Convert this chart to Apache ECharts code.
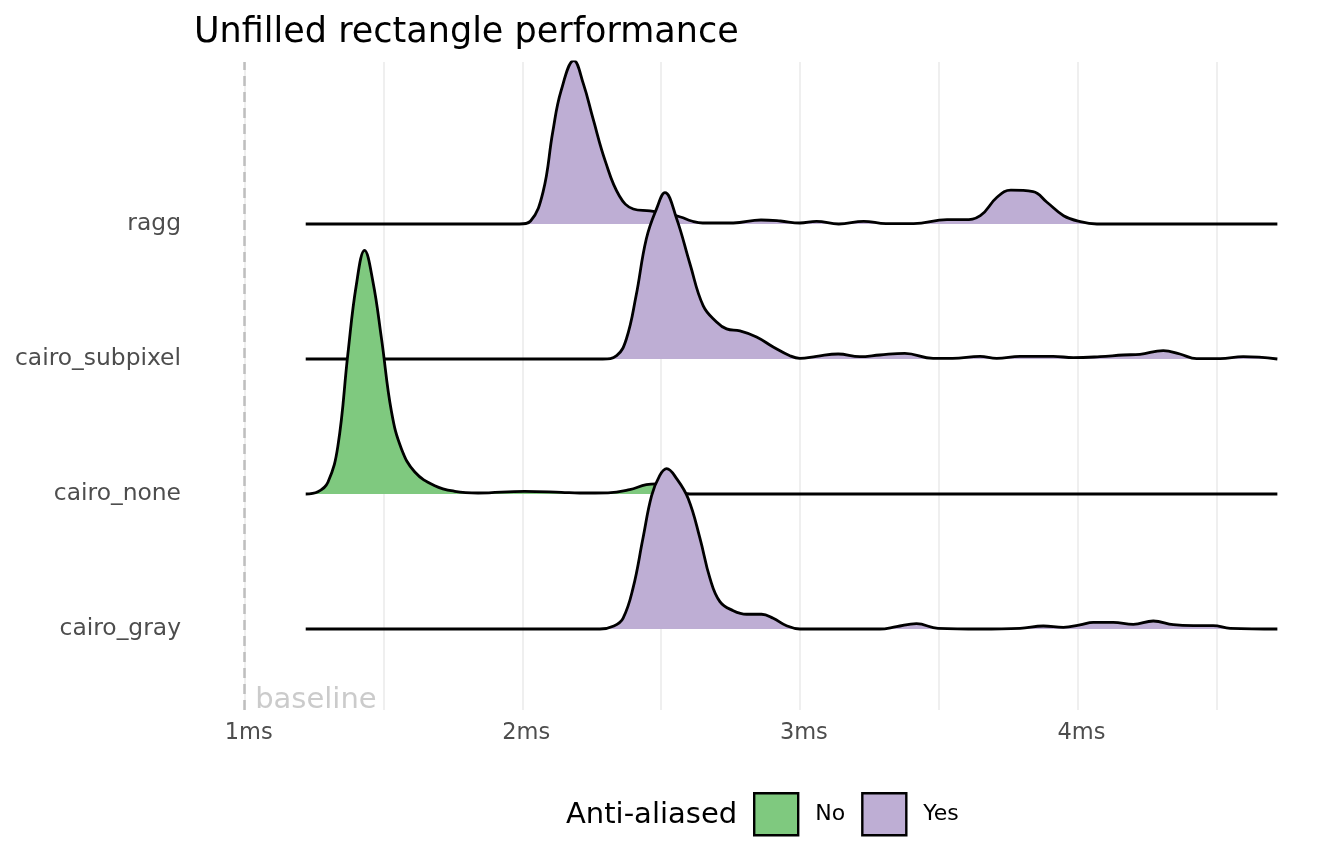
<!DOCTYPE html>
<html>
<head>
<meta charset="utf-8">
<title>Unfilled rectangle performance</title>
<script src="https://cdn.jsdelivr.net/npm/echarts@6/dist/echarts.min.js"></script>
<style>
  html, body { margin: 0; padding: 0; background: #fff; }
  #chart { width: 1344px; height: 865px; }
</style>
</head>
<body>
<div id="chart"></div>
<script>
// ridge rows, bottom to top (value on the y axis)
var rows = ['cairo_gray', 'cairo_none', 'cairo_subpixel', 'ragg'];
var xTicks = [1, 2, 3, 4];
var xMinor = [1, 1.5, 2, 2.5, 3, 3.5, 4, 4.5];
var baselineAt = 1;

// density curves (x in ms)
var raggX = [1.22, 1.99, 2.03, 2.075, 2.11, 2.14, 2.186, 2.22, 2.255, 2.30, 2.35, 2.40, 2.46, 2.52, 2.57, 2.61, 2.65, 2.76, 2.86, 2.93, 3.0, 3.06, 3.14, 3.23, 3.31, 3.41, 3.53, 3.59, 3.65, 3.71, 3.76, 3.84, 3.89, 3.95, 4.01, 4.07, 4.72];
var raggD = [0, 0, 0.03, 0.32, 0.92, 1.33, 1.63, 1.40, 1.05, 0.62, 0.28, 0.15, 0.13, 0.10, 0.07, 0.03, 0.01, 0.01, 0.04, 0.03, 0.01, 0.027, 0, 0.027, 0.003, 0.003, 0.043, 0.043, 0.083, 0.267, 0.337, 0.323, 0.217, 0.083, 0.023, 0, 0];

var subpixelX = [1.22, 2.29, 2.34, 2.375, 2.41, 2.447, 2.484, 2.514, 2.556, 2.604, 2.652, 2.70, 2.736, 2.784, 2.844, 2.904, 2.964, 3.0, 3.06, 3.138, 3.216, 3.288, 3.378, 3.48, 3.55, 3.649, 3.709, 3.793, 3.913, 3.985, 4.081, 4.165, 4.225, 4.309, 4.369, 4.429, 4.514, 4.597, 4.72];
var subpixelD = [0, 0, 0.033, 0.20, 0.63, 1.20, 1.50, 1.66, 1.40, 0.95, 0.53, 0.37, 0.30, 0.28, 0.22, 0.12, 0.033, 0.007, 0.027, 0.05, 0.023, 0.04, 0.057, 0.007, 0.007, 0.027, 0.007, 0.027, 0.027, 0.013, 0.023, 0.04, 0.047, 0.083, 0.05, 0.003, 0.003, 0.023, 0];

var noneX = [1.22, 1.264, 1.30, 1.336, 1.372, 1.402, 1.432, 1.462, 1.493, 1.529, 1.565, 1.613, 1.685, 1.757, 1.841, 2.009, 2.141, 2.207, 2.309, 2.387, 2.447, 2.484, 2.53, 2.604, 4.72];
var noneD = [0, 0.023, 0.117, 0.48, 1.40, 2.08, 2.43, 2.12, 1.55, 0.82, 0.45, 0.22, 0.083, 0.027, 0.01, 0.027, 0.017, 0.01, 0.012, 0.043, 0.093, 0.10, 0.06, 0, 0];

var grayX = [1.22, 2.28, 2.33, 2.363, 2.399, 2.435, 2.466, 2.495, 2.520, 2.556, 2.598, 2.640, 2.676, 2.712, 2.760, 2.808, 2.862, 2.904, 2.952, 3.0, 3.288, 3.348, 3.42, 3.498, 3.649, 3.793, 3.877, 3.949, 4.009, 4.057, 4.129, 4.201, 4.273, 4.345, 4.417, 4.489, 4.55, 4.72];
var grayD = [0, 0, 0.03, 0.107, 0.407, 0.907, 1.33, 1.53, 1.60, 1.50, 1.30, 0.907, 0.507, 0.273, 0.183, 0.147, 0.147, 0.107, 0.033, 0, 0, 0.023, 0.053, 0.007, 0, 0.007, 0.03, 0.017, 0.04, 0.067, 0.067, 0.047, 0.08, 0.043, 0.033, 0.033, 0.007, 0];

// anti-aliased? per row
var antiAliased = { ragg: 'Yes', cairo_subpixel: 'Yes', cairo_none: 'No', cairo_gray: 'Yes' };

(function(){
  var FONT = 'DejaVu Sans';
  var fills = { No: '#7FC97F', Yes: '#BEAED4' };
  var ridgeScale = 0.7426;   // density -> row units

  function ridge(name, xs, ds){
    var base = rows.indexOf(name) + 1;
    var pts = xs.map(function(x, i){ return [x, base + ds[i] * ridgeScale]; });
    var aa = antiAliased[name];
    return {
      name: aa,
      type: 'line',
      // lower rows are painted over upper ones
      z: 10 - base,
      data: pts,
      smooth: 0.42,
      symbol: 'none',
      silent: true,
      lineStyle: { color: '#000', width: 2.8 },
      itemStyle: { color: fills[aa] },
      areaStyle: { color: fills[aa], opacity: 1, origin: base }
    };
  }

  var el = document.getElementById('chart');
  var chart = echarts.init(el, null, { renderer: 'canvas' });

  var option = {
    animation: false,
    backgroundColor: '#fff',
    textStyle: { fontFamily: FONT },
    title: {
      text: 'Unfilled rectangle performance',
      left: 189, top: 10,
      textStyle: { fontFamily: FONT, fontSize: 35, fontWeight: 'normal', color: '#000' }
    },
    grid: { left: 193, right: 15, top: 62, bottom: 155 },
    xAxis: {
      type: 'value', min: 0.814, max: 4.906,
      axisLine: { show: false },
      axisTick: { show: false, customValues: xMinor },
      axisLabel: {
        customValues: xTicks, margin: 12, padding: [0, 0, 0, 8],
        color: '#4d4d4d', fontSize: 22.5, fontFamily: FONT,
        formatter: function(v){ return v + 'ms'; }
      },
      splitLine: { show: true, lineStyle: { color: '#ebebeb', width: 1.6 } }
    },
    yAxis: {
      type: 'value', min: 0.4, max: 5.2, interval: 0.2,
      axisLine: { show: false }, axisTick: { show: false },
      splitLine: { show: false },
      axisLabel: {
        margin: 12, color: '#4d4d4d', fontSize: 23.4, fontFamily: FONT,
        formatter: function(v){
          var r = Math.round(v);
          return Math.abs(v - r) < 1e-6 && rows[r - 1] ? rows[r - 1] : '';
        }
      }
    },
    legend: {
      left: 753, top: 792, padding: 0,
      icon: 'rect', itemWidth: 44, itemHeight: 42, itemGap: 16,
      textStyle: { fontFamily: FONT, fontSize: 22, color: '#000', padding: [0, 0, 0, 12] },
      data: [
        { name: 'No', itemStyle: { color: fills.No, borderColor: '#000', borderWidth: 2.4 } },
        { name: 'Yes', itemStyle: { color: fills.Yes, borderColor: '#000', borderWidth: 2.4 } }
      ]
    },
    graphic: [{
      type: 'text', left: 566, top: 801,
      style: { text: 'Anti-aliased', font: '29px "DejaVu Sans"', fill: '#000' }
    }],
    series: [
      {
        type: 'scatter', name: 'baseline', silent: true,
        data: [[baselineAt, 0.4]], symbolSize: 1,
        itemStyle: { color: 'rgba(0,0,0,0)' },
        label: {
          show: true, position: 'right', distance: 10, offset: [0, -10],
          formatter: 'baseline', color: '#bebebe', fontSize: 29, fontFamily: FONT
        },
        markLine: {
          silent: true, symbol: ['none', 'none'],
          label: { show: false },
          lineStyle: { color: '#bebebe', type: [10, 6], width: 2.5 },
          data: [{ xAxis: baselineAt }]
        }
      },
      ridge('ragg', raggX, raggD),
      ridge('cairo_subpixel', subpixelX, subpixelD),
      ridge('cairo_none', noneX, noneD),
      ridge('cairo_gray', grayX, grayD)
    ]
  };

  chart.setOption(option);
  window.addEventListener('resize', function(){ chart.resize(); });
})();
</script>
</body>
</html>
